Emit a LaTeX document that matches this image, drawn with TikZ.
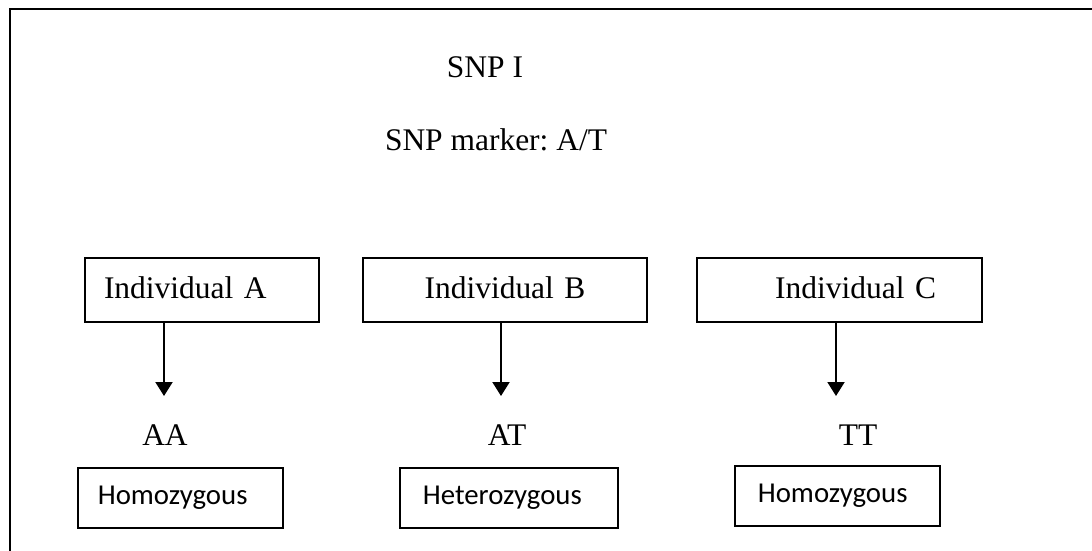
\documentclass[tikz,border=0pt]{standalone}
\usepackage{fontspec}
\setmainfont{Liberation Serif}
\newfontfamily\calibrifont{Carlito}
\usetikzlibrary{positioning, arrows.meta}
\frenchspacing

\begin{document}
\begin{tikzpicture}[
    x=0.75pt, y=-0.75pt,
    indbox/.style={draw, line width=1.5pt, anchor=north west, inner ysep=0pt,
        text height=30pt, text depth=18pt, font=\fontsize{23.6}{28}\selectfont},
    genobox/.style={draw, line width=1.3pt, anchor=north west, inner ysep=0pt,
        text height=27.75pt, text depth=17.25pt, font=\calibrifont\fontsize{21.6}{26}\selectfont},
    lbl/.style={anchor=base, inner sep=0pt, font=\fontsize{23.6}{28}\selectfont},
    arr/.style={line width=1.5pt, -{Triangle[width=12.75pt, length=10.5pt]}}
]
    \useasboundingbox (0,0) rectangle (1092,550);
    \clip (0,0) rectangle (1092,550);
    \draw[line width=1.5pt] (10,9) rectangle (1120,580);

    % Define nodes
    \node[lbl] (snp) at (485,77) {SNP I};
    \node[lbl] (marker) at (496,150) {SNP marker: A/T};

    \node[indbox, align=left, inner xsep=14.25pt, text width=147pt] (indA) at (84,257) {Individual A};
    \node[indbox, align=center, inner xsep=10pt, text width=193pt] (indB) at (362,257) {Individual B};
    \node[indbox, align=right, inner xsep=34.5pt, text width=144.75pt] (indC) at (696,257) {Individual C};

    \coordinate (tipA) at (164,396);
    \coordinate (tipB) at (501,396);
    \coordinate (tipC) at (836,396);

    \node[lbl] (aa) at (165,445) {AA};
    \node[lbl] (at) at (507,445) {AT};
    \node[lbl] (tt) at (858,445) {TT};

    \node[genobox, align=left, inner xsep=15pt, text width=123.75pt] (homA) at (77,467) {Homozygous};
    \node[genobox, align=left, inner xsep=17.25pt, text width=129pt] (het) at (399,467) {Heterozygous};
    \node[genobox, align=left, inner xsep=17.25pt, text width=119.25pt] (homC) at (734,465) {Homozygous};

    % Arrows
    \path[arr]
        (indA.south -| tipA) edge (tipA)
        (indB.south -| tipB) edge (tipB)
        (indC.south -| tipC) edge (tipC);
\end{tikzpicture}
\end{document}
